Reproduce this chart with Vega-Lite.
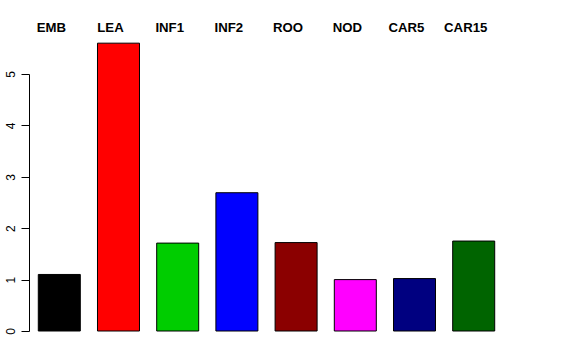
{
  "$schema": "https://vega.github.io/schema/vega-lite/v6.json",
  "autosize": "none",
  "padding": {"left": 29, "top": 74, "right": 72, "bottom": 29},
  "width": 475,
  "height": 257,
  "background": "white",
  "config": {"view": {"stroke": null}, "font": "Liberation Sans"},
  "data": {"values": [
    {"tissue": "EMB", "value": 1.10, "color": "#000000"},
    {"tissue": "LEA", "value": 5.60, "color": "#FF0000"},
    {"tissue": "INF1", "value": 1.71, "color": "#00CD00"},
    {"tissue": "INF2", "value": 2.69, "color": "#0000FF"},
    {"tissue": "ROO", "value": 1.72, "color": "#8B0000"},
    {"tissue": "NOD", "value": 1.00, "color": "#FF00FF"},
    {"tissue": "CAR5", "value": 1.02, "color": "#000080"},
    {"tissue": "CAR15", "value": 1.75, "color": "#006400"}
  ]},
  "encoding": {
    "x": {"field": "tissue", "type": "nominal", "sort": null, "axis": null,
          "scale": {"paddingInner": 0.2905, "paddingOuter": 0.157}}
  },
  "layer": [
    {
      "mark": {"type": "bar", "stroke": "black", "strokeWidth": 1, "clip": false},
      "encoding": {
        "y": {"field": "value", "type": "quantitative",
              "scale": {"domain": [0, 5], "nice": false, "zero": true},
              "axis": {"values": [0, 1, 2, 3, 4, 5], "title": null, "grid": false,
                       "labelAngle": 270, "labelAlign": "center", "labelBaseline": "alphabetic",
                       "labelPadding": 7, "labelFontSize": 12, "labelColor": "black",
                       "tickSize": 8, "tickColor": "black", "domainColor": "black",
                       "labelFont": "Liberation Sans"}},
        "fill": {"field": "color", "type": "nominal", "scale": null}
      }
    },
    {
      "mark": {"type": "text", "fontWeight": "bold", "fontSize": 13.2, "dx": -8, "baseline": "middle", "font": "Liberation Sans", "color": "black"},
      "encoding": {
        "y": {"datum": 5.89},
        "text": {"field": "tissue"}
      }
    }
  ]
}
